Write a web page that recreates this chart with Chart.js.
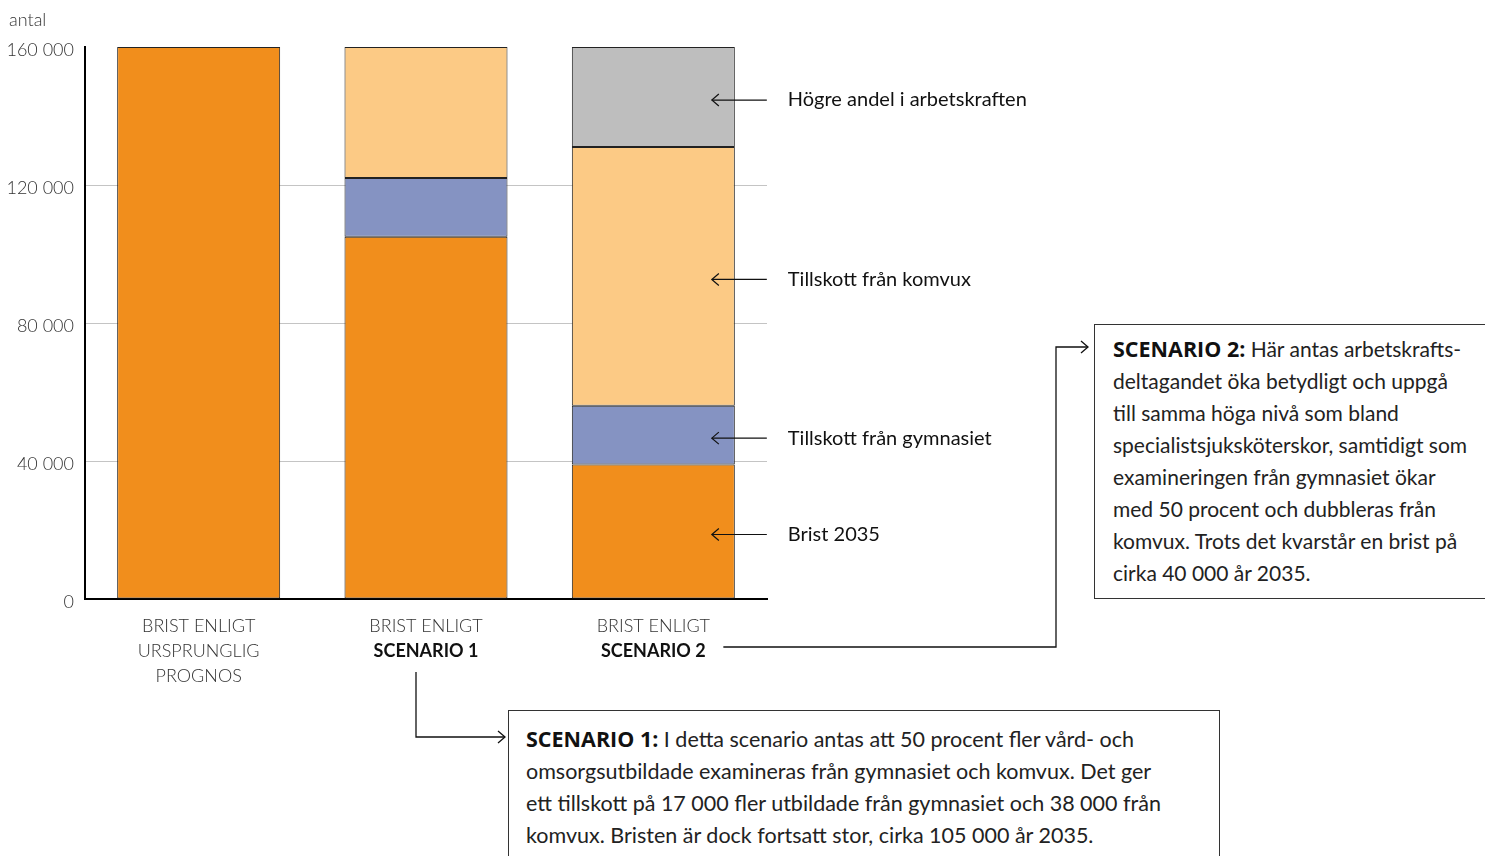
<!DOCTYPE html>
<html>
<head>
<meta charset="utf-8">
<script src="https://cdn.jsdelivr.net/npm/chart.js@4.4.1/dist/chart.umd.min.js"></script>
<style>
  body { margin: 0; background: #fff; }
  #wrap { position: relative; width: 1485px; height: 856px; overflow: hidden; }
  #chart { position: absolute; left: 0; top: 0; }
  .box {
    position: absolute; border: 1.5px solid #333; background: #fff;
    font-family: Lato, "Open Sans", sans-serif; color: #222;
    font-size: 21px; line-height: 32px; white-space: nowrap;
  }
  .box b { font-family: "Open Sans", Lato, sans-serif; font-weight: 700; color: #111; font-size: 21.5px; }
  #box2 { left: 1094px; top: 324px; width: 420px; height: 275px; padding: 8px 0 0 18px; box-sizing: border-box; }
  #box1 { left: 508px; top: 710px; width: 712px; height: 180px; padding: 12px 0 0 17px; box-sizing: border-box; font-size: 21.5px; }
</style>
</head>
<body>
<div id="wrap">
  <canvas id="chart" width="1485" height="856"></canvas>
  <div class="box" id="box2"><b>SCENARIO 2:</b> Här antas arbetskrafts-<br>deltagandet öka betydligt och uppgå<br>till samma höga nivå som bland<br>specialistsjuksköterskor, samtidigt som<br>examineringen från gymnasiet ökar<br>med 50 procent och dubbleras från<br>komvux. Trots det kvarstår en brist på<br>cirka 40 000 år 2035.</div>
  <div class="box" id="box1"><b>SCENARIO 1:</b> I detta scenario antas att 50 procent fler vård- och<br>omsorgsutbildade examineras från gymnasiet och komvux. Det ger<br>ett tillskott på 17 000 fler utbildade från gymnasiet och 38 000 från<br>komvux. Bristen är dock fortsatt stor, cirka 105 000 år 2035.</div>
</div>
<script>
'use strict';

// categories (label lines), bold line is the scenario name
var categories = [
  ['BRIST ENLIGT', 'URSPRUNGLIG', 'PROGNOS'],
  ['BRIST ENLIGT', 'SCENARIO 1'],
  ['BRIST ENLIGT', 'SCENARIO 2']
];
var brist      = [160000, 105000, 39000];
var gymnasiet  = [null, 17000, 17000];
var komvux     = [null, 38000, 75000];
var arbetskraft = [null, null, 29000];
var seriesNames = ['Brist 2035', 'Tillskott från gymnasiet', 'Tillskott från komvux', 'Högre andel i arbetskraften'];
var yTicks = [0, 40000, 80000, 120000, 160000];

var FONT = 'Lato, "Open Sans", sans-serif';

function fmt(v) {
  return String(v).replace(/\B(?=(\d{3})+(?!\d))/g, ' ');
}

function arrowHead(ctx, x, y, dir) {
  // open chevron, dir = -1 points left, 1 points right
  ctx.beginPath();
  ctx.moveTo(x - dir * 7, y - 6);
  ctx.lineTo(x, y);
  ctx.lineTo(x - dir * 7, y + 6);
  ctx.stroke();
}

var annotations = {
  id: 'annotations',
  afterDraw: function (chart) {
    var ctx = chart.ctx;
    var area = chart.chartArea;
    var x = chart.scales.x;
    ctx.save();

    // y axis title
    ctx.fillStyle = '#333';
    ctx.font = '300 18px ' + FONT;
    ctx.textAlign = 'left';
    ctx.textBaseline = 'alphabetic';
    ctx.fillText('antal', 9, area.top - 21);

    // category labels
    ctx.textAlign = 'center';
    categories.forEach(function (lines, i) {
      var cx = x.getPixelForValue(i);
      lines.forEach(function (line, j) {
        var bold = line.indexOf('SCENARIO') === 0;
        ctx.font = (bold ? '700 ' : '300 ') + '18px ' + FONT;
        ctx.fillStyle = bold ? '#111' : '#333';
        ctx.fillText(line, cx, area.bottom + 33 + j * 25);
      });
    });

    // series labels with arrows pointing into the last bar
    ctx.strokeStyle = '#111';
    ctx.lineWidth = 1.2;
    ctx.fillStyle = '#111';
    ctx.font = '400 20px ' + FONT;
    ctx.textAlign = 'left';
    ctx.textBaseline = 'middle';
    chart.data.datasets.forEach(function (ds, d) {
      var bar = chart.getDatasetMeta(d).data[2];
      var props = bar.getProps(['x', 'y', 'base', 'width'], true);
      var right = props.x + props.width / 2;
      var cy = (props.y + props.base) / 2 + 3;
      ctx.beginPath();
      ctx.moveTo(right - 23, cy);
      ctx.lineTo(right + 32, cy);
      ctx.stroke();
      arrowHead(ctx, right - 23, cy, -1);
      ctx.fillText(ds.label, right + 53, cy);
    });

    // connectors to the text boxes
    ctx.lineWidth = 1.3;
    var c2 = x.getPixelForValue(1);
    var c3 = x.getPixelForValue(2);
    ctx.beginPath();
    ctx.moveTo(c2 - 10, area.bottom + 73);
    ctx.lineTo(c2 - 10, 737);
    ctx.lineTo(505, 737);
    ctx.stroke();
    arrowHead(ctx, 505, 737, 1);

    var ly = area.bottom + 48;
    ctx.beginPath();
    ctx.moveTo(c3 + 70, ly);
    ctx.lineTo(1056, ly);
    ctx.lineTo(1056, 347);
    ctx.lineTo(1088, 347);
    ctx.stroke();
    arrowHead(ctx, 1088, 347, 1);

    ctx.restore();
  }
};

function zeroBorder(c) { return c.raw ? 1 : 0; }

var colors = ['#F18E1C', '#8593C2', '#FCCA85', '#BEBEBE'];
var values = [brist, gymnasiet, komvux, arbetskraft];

var chart = new Chart(document.getElementById('chart').getContext('2d'), {
  type: 'bar',
  data: {
    labels: categories.map(function (l) { return l.join(' '); }),
    datasets: values.map(function (v, i) {
      return {
        label: seriesNames[i],
        data: v,
        backgroundColor: colors[i],
        borderColor: '#222',
        borderWidth: zeroBorder,
        borderSkipped: false,
        categoryPercentage: 1,
        barPercentage: 0.717
      };
    })
  },
  options: {
    responsive: false,
    animation: false,
    events: [],
    layout: { padding: { left: 0, right: 718, top: 47, bottom: 257 } },
    plugins: { legend: { display: false }, tooltip: { enabled: false } },
    scales: {
      x: {
        stacked: true,
        grid: { display: false, drawTicks: false },
        border: { color: '#000', width: 2 },
        ticks: { display: false },
        afterFit: function (s) { s.height = 0; }
      },
      y: {
        stacked: true,
        min: 0,
        max: 160000,
        afterBuildTicks: function (s) { s.ticks = yTicks.map(function (v) { return { value: v }; }); },
        afterFit: function (s) { s.width = 85; },
        grid: {
          drawTicks: false,
          color: function (c) { return c.tick && c.tick.value === 160000 ? 'rgba(0,0,0,0)' : '#C4C4C4'; },
          lineWidth: 1
        },
        border: { color: '#000', width: 2 },
        ticks: {
          padding: 11,
          labelOffset: 3,
          color: '#333',
          font: { family: FONT, size: 18, weight: '300' },
          callback: function (v) { return fmt(v); }
        }
      }
    }
  },
  plugins: [annotations]
});
</script>
</body>
</html>
